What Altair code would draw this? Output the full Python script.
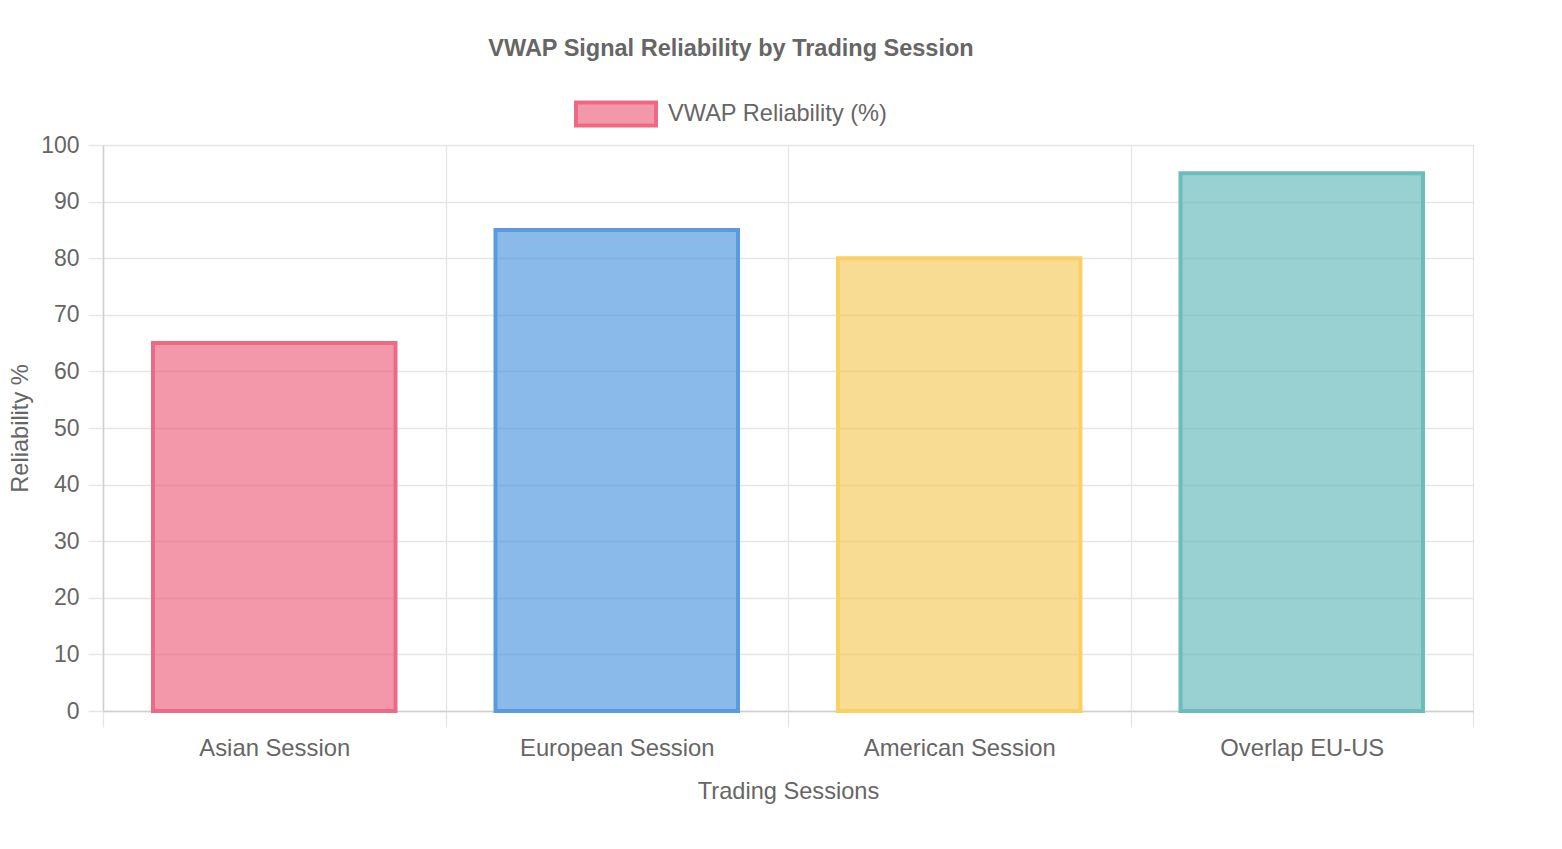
import altair as alt
import pandas as pd

# ---- data ----
sessions = ["Asian Session", "European Session", "American Session", "Overlap EU-US"]
reliability = [65, 85, 80, 95]
fill_colors = [
    "rgba(235, 83, 113, 0.6)",
    "rgba(60, 140, 220, 0.6)",
    "rgba(245, 197, 77, 0.6)",
    "rgba(85, 178, 180, 0.6)",
]
border_colors = ["#ee6a84", "#5a9be0", "#f8d064", "#6cbcbc"]
dataset_label = "VWAP Reliability (%)"
chart_title = "VWAP Signal Reliability by Trading Session"
x_title = "Trading Sessions"
y_title = "Reliability %"
y_ticks = list(range(0, 101, 10))

df = pd.DataFrame({"session": sessions, "reliability": reliability})

FONT = "Liberation Sans"
TEXT = "#666666"
GRID = "#e5e5e5"
DOMAIN = "#cfcfcf"

x = alt.X(
    "session:N",
    sort=sessions,
    title=x_title,
    scale=alt.Scale(paddingInner=0, paddingOuter=0),
    axis=alt.Axis(
        labelAngle=0,
        tickBand="extent",
        grid=True,
        gridColor=GRID,
        gridWidth=1.3,
        tickColor=GRID,
        tickWidth=1.3,
        tickSize=16,
        domainColor=DOMAIN,
        domainWidth=1.5,
        labelPadding=9,
        labelFontSize=23.8,
        labelFont=FONT,
        labelColor=TEXT,
        labelLimit=400,
        titleFont=FONT,
        titleFontSize=23.6,
        titleFontWeight="normal",
        titleColor=TEXT,
        titlePadding=20,
    ),
)

y = alt.Y(
    "reliability:Q",
    title=y_title,
    scale=alt.Scale(domain=[0, 100], nice=False),
    axis=alt.Axis(
        values=y_ticks,
        grid=True,
        gridColor=GRID,
        gridWidth=1.3,
        tickColor=GRID,
        tickWidth=1.3,
        tickSize=15,
        domainColor=DOMAIN,
        domainWidth=1.5,
        labelPadding=9,
        labelFontSize=23,
        labelFont=FONT,
        labelColor=TEXT,
        titleFont=FONT,
        titleFontSize=23.6,
        titleFontWeight="normal",
        titleColor=TEXT,
        titlePadding=8,
    ),
)

color = alt.Color(
    "session:N",
    scale=alt.Scale(domain=sessions, range=fill_colors),
    legend=alt.Legend(
        values=[sessions[0]],
        labelExpr=f"'{dataset_label}'",
        title=None,
        orient="none",
        legendX=471,
        legendY=-73,
        padding=0,
        symbolType="M-1,-0.2875H1V0.2875H-1Z",
        symbolSize=6400,
        symbolStrokeColor=border_colors[0],
        symbolStrokeWidth=4,
        labelOffset=10,
        labelFontSize=23.6,
        labelFont=FONT,
        labelColor=TEXT,
        labelLimit=400,
    ),
)

stroke = alt.Stroke(
    "session:N",
    scale=alt.Scale(domain=sessions, range=border_colors),
    legend=None,
)

chart = (
    alt.Chart(df)
    .mark_bar(strokeWidth=4, width=alt.RelativeBandSize(0.708))
    .encode(x=x, y=y, color=color, stroke=stroke)
    .properties(
        width=1370,
        height=566,
        autosize=alt.AutoSizeParams(type="none"),
        padding={"left": 95, "top": 137, "right": 81, "bottom": 130},
        title=alt.TitleParams(
            chart_title,
            font=FONT,
            fontSize=23.5,
            fontWeight="bold",
            color=TEXT,
            anchor="middle",
            dx=-57,
            offset=12,
        ),
    )
    .configure_view(stroke=None)
    .configure(background="white")
)

chart.save("out.html", embed_options={"renderer": "svg", "actions": False})
